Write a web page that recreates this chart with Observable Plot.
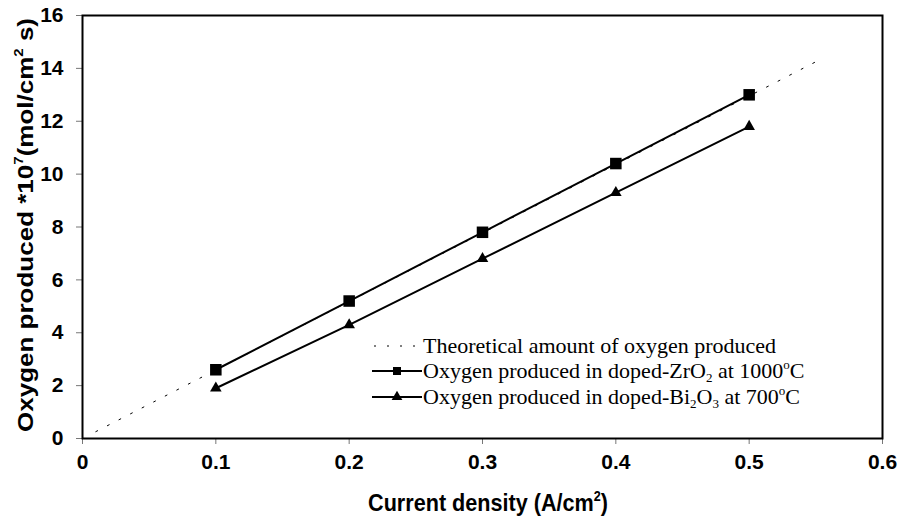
<!DOCTYPE html>
<html>
<head>
<meta charset="utf-8">
<script src="https://cdn.jsdelivr.net/npm/d3@7"></script>
<script src="https://cdn.jsdelivr.net/npm/@observablehq/plot@0.6"></script>
<style>
  html, body { margin: 0; padding: 0; background: #fff; }
  #wrap { position: relative; width: 906px; height: 524px; }
  #wrap svg text { font-size: 21px !important; font-weight: bold; }
  .axis-title { position: absolute; font-family: "Liberation Sans", Arial, sans-serif; font-weight: bold; font-size: 24px; color: #000; white-space: nowrap; line-height: 1; }
  .axis-title sup { font-size: 14px; vertical-align: 0; position: relative; top: -10px; }
  #ylab { left: 25px; top: 225px; font-size: 26px; transform: translate(-50%, -50%) rotate(-90deg) scaleY(0.87); }
  #ylab sup { font-size: 15px; top: -11px; }
  #xlab { left: 488px; top: 503px; transform: translate(-50%, -50%) scaleX(0.9); }
  #legend { position: absolute; left: 371px; top: 333px; font-family: "Liberation Serif", "Times New Roman", serif; font-size: 22px; color: #000; }
  #legend .row { display: flex; align-items: center; height: 25.5px; white-space: nowrap; }
  #legend svg { flex: none; margin-right: 1px; }
  #legend sub { font-size: 13px; vertical-align: -4px; line-height: 0; }
  #legend sup { font-size: 13px; vertical-align: 9px; line-height: 0; }
</style>
</head>
<body>
<div id="wrap"></div>
<script>
// Current density (A/cm²)
const currentDensity = [0.1, 0.2, 0.3, 0.4, 0.5];
// Oxygen produced, ×10⁻⁷ mol/(cm²·s)
const zro2At1000 = [2.6, 5.2, 7.8, 10.4, 13.0];
const bi2o3At700 = [1.9, 4.3, 6.8, 9.3, 11.8];
// Theoretical (Faraday) line end points
const theoryDensity = [0.01, 0.55];
const theoryOxygen = [0.26, 14.25];
// Axis ticks
const xTicks = [0, 0.1, 0.2, 0.3, 0.4, 0.5, 0.6];
const yTicks = [0, 2, 4, 6, 8, 10, 12, 14, 16];

const zro2 = currentDensity.map((x, i) => ({x, y: zro2At1000[i]}));
const bi2o3 = currentDensity.map((x, i) => ({x, y: bi2o3At700[i]}));
const theory = theoryDensity.map((x, i) => ({x, y: theoryOxygen[i]}));

const chart = Plot.plot({
  width: 906,
  height: 524,
  marginLeft: 82,
  marginRight: 24,
  marginTop: 15,
  marginBottom: 86,
  style: {fontFamily: "'Liberation Sans', Arial, sans-serif", background: "#fff", color: "#000"},
  x: {domain: [0, 0.6]},
  y: {domain: [0, 16]},
  marks: [
    Plot.axisX({ticks: xTicks, tickSize: 6, tickPadding: 10, fontSize: 21, fontWeight: "bold", label: null,
      tickFormat: d => d === 0 ? "0" : d.toFixed(1), stroke: "#777"}),
    Plot.axisY({ticks: yTicks, tickSize: 6, tickPadding: 13, fontSize: 21, fontWeight: "bold", label: null,
      tickFormat: d3.format("d"), stroke: "#777"}),
    Plot.line(theory, {x: "x", y: "y", stroke: "#000", strokeWidth: 1, strokeDasharray: "2,11"}),
    Plot.line(zro2, {x: "x", y: "y", stroke: "#000", strokeWidth: 2}),
    Plot.line(bi2o3, {x: "x", y: "y", stroke: "#000", strokeWidth: 2}),
    Plot.dot(zro2, {x: "x", y: "y", symbol: "square", r: 6.5, fill: "#000", stroke: "none"}),
    Plot.dot(bi2o3, {x: "x", y: "y", symbol: "triangle", r: 4.3, fill: "#000", stroke: "none"}),
    Plot.frame({stroke: "#000", strokeWidth: 2})
  ]
});

const wrap = document.getElementById("wrap");
wrap.appendChild(chart);

const ylab = document.createElement("div");
ylab.id = "ylab";
ylab.className = "axis-title";
ylab.innerHTML = "Oxygen produced *10<sup>7</sup>(mol/cm<sup>2</sup> s)";
wrap.appendChild(ylab);

const xlab = document.createElement("div");
xlab.id = "xlab";
xlab.className = "axis-title";
xlab.innerHTML = "Current density (A/cm<sup>2</sup>)";
wrap.appendChild(xlab);

// Legend: line sample with marker, then the series name
const legendItems = [
  {dash: "2,11", width: 1, symbol: null, html: "Theoretical amount of oxygen produced"},
  {dash: null, width: 2, symbol: "square", html: "Oxygen produced in doped-ZrO<sub>2</sub> at 1000<sup>o</sup>C"},
  {dash: null, width: 2, symbol: "triangle", html: "Oxygen produced in doped-Bi<sub>2</sub>O<sub>3</sub> at 700<sup>o</sup>C"}
];
const legend = document.createElement("div");
legend.id = "legend";
for (const item of legendItems) {
  const row = document.createElement("div");
  row.className = "row";
  const svg = d3.create("svg").attr("width", 51).attr("height", 20);
  const ln = svg.append("line").attr("x1", item.dash ? 3 : 1).attr("x2", 51).attr("y1", 10).attr("y2", 10)
    .attr("stroke", "#000").attr("stroke-width", item.width);
  if (item.dash) ln.attr("stroke-dasharray", item.dash);
  if (item.symbol) {
    const sym = item.symbol === "square" ? d3.symbolSquare : d3.symbolTriangle;
    const size = item.symbol === "square" ? 64 : 50;
    svg.append("path").attr("d", d3.symbol(sym, size)()).attr("transform", "translate(26,10)").attr("fill", "#000");
  }
  row.appendChild(svg.node());
  const span = document.createElement("span");
  span.innerHTML = item.html;
  row.appendChild(span);
  legend.appendChild(row);
}
wrap.appendChild(legend);
</script>
</body>
</html>
